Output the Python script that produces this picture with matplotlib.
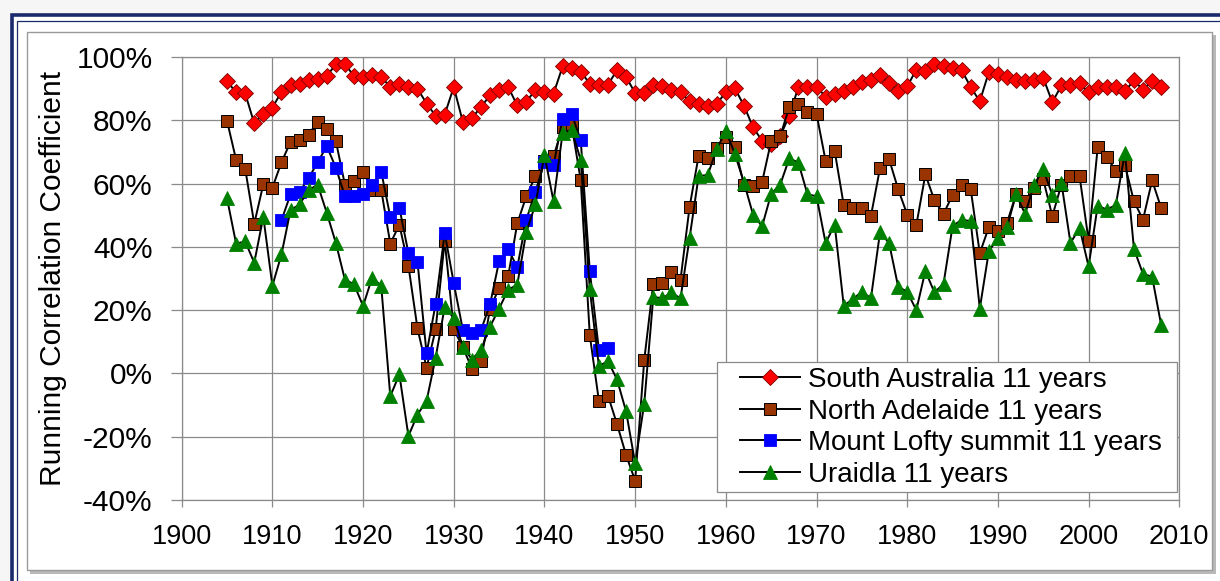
import matplotlib
matplotlib.use("Agg")
import matplotlib.pyplot as plt
from matplotlib.patches import Rectangle
from matplotlib.ticker import FuncFormatter, MultipleLocator

plt.rcParams['font.family'] = ['Liberation Sans', 'DejaVu Sans']

W, H = 1220, 581

# 11-year running correlation coefficients (%)
years = list(range(1905, 2009))
south_australia = [
    92.3, 88.8, 88.5, 79.0, 82.0, 84.0, 89.0, 91.0, 91.5, 92.8,   # 1905-1914
    93.0, 94.0, 97.7, 97.7, 94.0, 93.6, 94.4, 93.6, 90.6, 91.5,   # 1915-1924
    90.4, 90.0, 85.3, 81.4, 81.8, 90.5, 79.5, 80.7, 84.2, 87.9,   # 1925-1934
    89.7, 90.5, 84.7, 85.8, 89.7, 89.0, 88.4, 97.0, 96.6, 95.3,   # 1935-1944
    91.6, 91.3, 91.3, 95.8, 93.7, 88.6, 88.7, 91.0, 90.8, 89.6,   # 1945-1954
    88.9, 86.0, 85.2, 84.6, 85.2, 88.9, 90.1, 84.6, 77.8, 73.5,   # 1955-1964
    72.5, 75.0, 81.5, 90.5, 90.5, 90.5, 87.5, 88.3, 89.4, 90.5,   # 1965-1974
    92.0, 92.8, 94.2, 91.7, 89.4, 90.7, 96.0, 95.5, 97.7, 97.0,   # 1975-1984
    96.6, 95.8, 90.5, 86.0, 95.2, 94.7, 93.6, 92.8, 92.4, 92.6,   # 1985-1994
    93.4, 85.7, 91.0, 91.2, 91.7, 88.8, 90.5, 90.5, 90.5, 89.2,   # 1995-2004
    92.6, 89.6, 92.4, 90.5,                                       # 2005-2008
]
north_adelaide = [
    79.8, 67.5, 64.7, 47.3, 59.8, 58.7, 66.7, 73.2, 73.8, 75.5,
    79.6, 77.4, 73.4, 59.6, 60.9, 63.8, 58.0, 58.0, 41.0, 47.0,
    34.0, 14.2, 1.8, 13.9, 42.0, 13.9, 8.3, 1.5, 3.9, 20.5,
    27.0, 30.7, 47.4, 56.0, 62.3, 67.0, 68.6, 77.9, 78.4, 61.0,
    12.0, -8.6, -7.0, -16.0, -25.8, -33.9, 4.2, 28.4, 28.5, 32.2,
    29.6, 52.6, 68.8, 68.2, 71.2, 74.8, 71.4, 59.7, 59.2, 60.5,
    73.5, 75.0, 84.3, 85.0, 82.5, 82.0, 67.2, 70.3, 53.2, 52.3,
    52.3, 49.8, 64.9, 67.7, 58.2, 50.2, 46.8, 62.9, 54.7, 50.4,
    56.4, 59.4, 58.2, 38.0, 46.2, 44.9, 47.6, 56.6, 54.4, 58.7,
    61.3, 49.7, 59.7, 62.4, 62.4, 42.0, 71.4, 68.4, 64.0, 65.9,
    54.4, 48.6, 61.0, 52.3,
]
uraidla = [
    55.3, 41.0, 41.7, 35.0, 49.5, 27.7, 37.6, 51.6, 53.4, 58.0,
    59.6, 50.7, 41.2, 29.6, 28.2, 21.3, 30.3, 27.7, -7.2, -0.3,
    -19.8, -13.0, -8.7, 5.0, 21.0, 17.5, 8.5, 4.4, 7.5, 14.8,
    20.5, 26.5, 28.0, 44.7, 53.4, 69.0, 54.4, 76.0, 77.0, 67.4,
    26.6, 2.3, 3.9, -1.9, -12.0, -28.4, -9.6, 24.2, 23.7, 25.6,
    23.7, 42.8, 62.4, 62.7, 70.9, 76.7, 69.3, 60.3, 50.2, 46.5,
    56.8, 59.7, 68.0, 66.6, 56.6, 56.0, 41.2, 47.0, 21.4, 23.5,
    25.8, 23.8, 44.6, 41.2, 27.4, 25.8, 20.0, 32.4, 25.6, 28.3,
    46.5, 48.6, 48.1, 20.5, 38.6, 42.8, 46.2, 56.6, 50.4, 59.7,
    64.5, 56.4, 60.3, 41.2, 46.0, 33.8, 53.0, 51.8, 53.2, 69.8,
    39.4, 31.4, 30.6, 15.3,
]
lofty_years = list(range(1911, 1948))
mount_lofty = [
    48.4, 56.6, 57.4, 61.7, 66.8, 71.8, 65.0, 56.0, 56.0, 56.6,   # 1911-1920
    59.4, 63.8, 49.5, 52.4, 38.0, 35.3, 6.3, 22.0, 44.4, 28.5,    # 1921-1930
    13.8, 12.7, 13.7, 21.8, 35.5, 39.3, 33.5, 48.6, 57.4, 66.8,   # 1931-1940
    65.8, 80.5, 82.1, 73.7, 32.3, 7.5, 8.0,                       # 1941-1947
]


def px_rect(x0, y0, x1, y1, **kw):
    # rectangle given in image pixels (origin top-left), drawn behind the axes
    return Rectangle((x0 / W, 1 - y1 / H), (x1 - x0) / W, (y1 - y0) / H,
                     transform=fig.transFigure, zorder=-10, **kw)


fig = plt.figure(figsize=(W / 100, H / 100), dpi=100)
fig.patch.set_facecolor('#f6f6f6')

# navy double frame and the shaded inner panel
fig.patches.append(px_rect(11.5, 14.5, 1240, 600, facecolor='white',
                           edgecolor='#1a2a6c', linewidth=2.6))
fig.patches.append(px_rect(17, 20.5, 1240, 600, facecolor='none',
                           edgecolor='#1a2a6c', linewidth=0.9))
fig.patches.append(px_rect(30, 35, 1216, 574, facecolor='#b8b8b8',
                           edgecolor='none'))
fig.patches.append(px_rect(27, 32, 1212, 570, facecolor='white',
                           edgecolor='#9a9a9a', linewidth=1.0))

ax = fig.add_axes([181.7 / W, 1 - 500 / H, (1179.3 - 181.7) / W, (500 - 57) / H])
ax.set_facecolor('white')

line_kw = dict(color='black', linewidth=1.4)
ax.plot(years, south_australia, marker='D', markersize=8.3,
        markerfacecolor='#ff0000', markeredgecolor='#7a0000', markeredgewidth=0.6,
        label='South Australia 11 years', zorder=3, **line_kw)
ax.plot(years, north_adelaide, marker='s', markersize=9,
        markerfacecolor='#993300', markeredgecolor='black', markeredgewidth=0.7,
        label='North Adelaide 11 years', zorder=4, **line_kw)
ax.plot(lofty_years, mount_lofty, marker='s', markersize=9,
        markerfacecolor='#0000ff', markeredgecolor='#0000ff', markeredgewidth=0.6,
        label='Mount Lofty summit 11 years', zorder=5, **line_kw)
ax.plot(years, uraidla, marker='^', markersize=10.5,
        markerfacecolor='#008000', markeredgecolor='#008000', markeredgewidth=0.6,
        label='Uraidla 11 years', zorder=6, **line_kw)

ax.set_xlim(1900, 2010)
ax.set_ylim(-40, 100)
ax.xaxis.set_major_locator(MultipleLocator(10))
ax.yaxis.set_major_locator(MultipleLocator(20))
ax.yaxis.set_major_formatter(FuncFormatter(lambda v, p: f"{int(round(v))}%"))

ax.grid(True, color='#8a8a8a', linewidth=0.9)
ax.set_axisbelow(True)
for s in ax.spines.values():
    s.set_color('#8a8a8a')
    s.set_linewidth(0.9)

ax.tick_params(axis='x', length=5, width=0.9, color='#8a8a8a', pad=12,
               labelsize=19.5, labelcolor='black')
ax.tick_params(axis='y', length=8, width=0.9, color='#8a8a8a', pad=13,
               labelsize=21.5, labelcolor='black')
ax.set_ylabel('Running Correlation Coefficient', fontsize=21.5, labelpad=7)

# legend box drawn by hand so the padding matches the Excel one
ax.add_patch(Rectangle((0.5366, 0.018), 0.4611, 0.2935, transform=ax.transAxes,
                       facecolor='white', edgecolor='#8a8a8a', linewidth=0.9,
                       zorder=9, clip_on=False))
leg = ax.legend(loc='upper left', bbox_to_anchor=(0.5597, 0.300),
                fontsize=20, frameon=False, handlelength=2.16, handletextpad=0.29,
                labelspacing=0.2, borderpad=0, borderaxespad=0)
leg.set_zorder(10)

fig.savefig('out.png', dpi=100, facecolor=fig.get_facecolor())
